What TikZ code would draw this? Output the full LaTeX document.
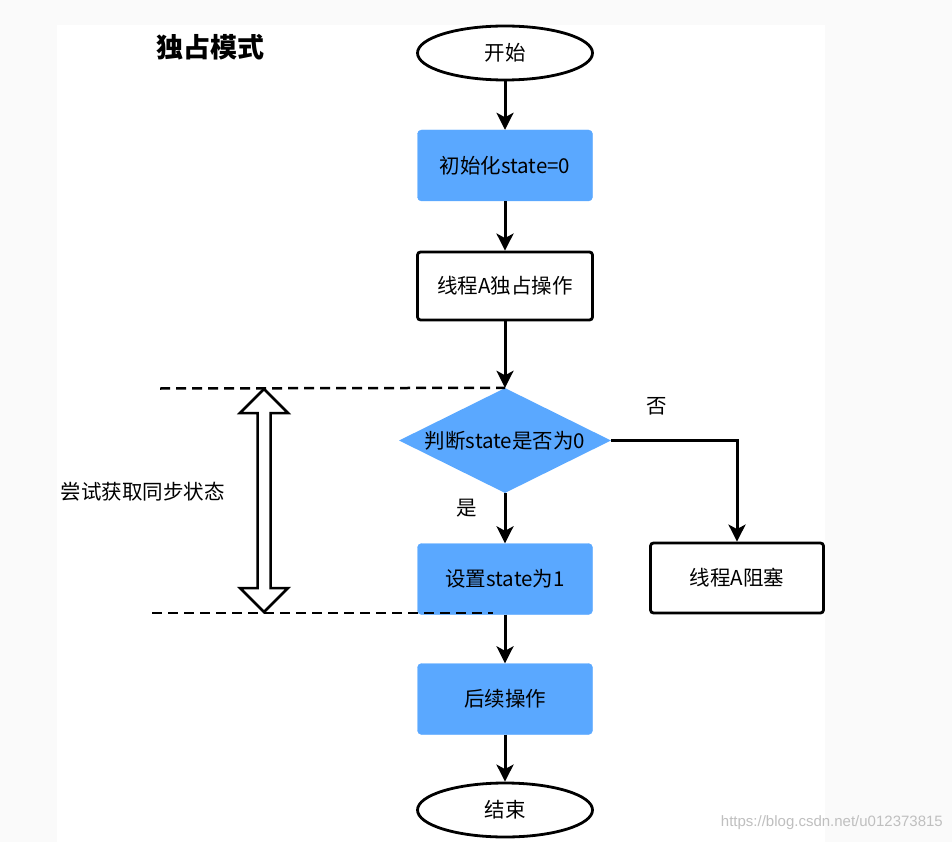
\documentclass[tikz,border=0pt]{standalone}
\usepackage{fontspec}
\setmainfont{Noto Sans CJK SC}
\newfontfamily\wmfont{Liberation Sans}
\usetikzlibrary{shapes.geometric,arrows.meta}
\definecolor{boxblue}{HTML}{5AA8FF}
\tikzset{
  flowbox/.style={rectangle, minimum width=175pt, minimum height=71pt, inner sep=0pt, font=\fontsize{20.5}{24}\selectfont},
  bluebox/.style={flowbox, fill=boxblue, draw=boxblue, rounded corners=4pt},
  whitebox/.style={flowbox, fill=white, draw=black, line width=2.8pt, rounded corners=3pt},
  terminal/.style={ellipse, draw=black, line width=2.8pt, fill=white, minimum width=175pt, minimum height=54pt, inner sep=0pt, font=\fontsize{20.5}{24}\selectfont},
  conn/.style={line width=3pt, -{Stealth[length=17pt, width=17pt, inset=4.5pt]}},
  dashline/.style={line width=2.5pt, dash pattern=on 10pt off 6pt},
  plain/.style={font=\fontsize{20.5}{24}\selectfont, inner sep=0pt}
}
\begin{document}
\begin{tikzpicture}[x=1pt, y=-1pt]
\useasboundingbox (0,0) rectangle (952,842);
\fill[black!2] (0,0) rectangle (952,842);
\fill[white] (57,25) rectangle (825,842);

\node[font=\fontsize{27}{30}\selectfont\bfseries, inner sep=0pt] (title) at (210,47) {独占模式};

\node[terminal] (start) at (505,53) {开始};
\node[bluebox] (init) at (505,165.5) {初始化state=0};
\node[whitebox, minimum height=68pt] (op) at (505,286) {线程A独占操作};
\node[diamond, fill=boxblue, minimum width=212pt, minimum height=105pt, inner sep=0pt] (dec) at (505,440.5) {};
\node[plain] (dectext) at (dec.center) {判断state是否为0};
\node[bluebox] (set) at (505,579) {设置state为1};
\node[bluebox] (next) at (505,699) {后续操作};
\node[terminal] (end) at (505,810) {结束};
\node[whitebox, minimum width=173pt, minimum height=70pt] (block) at (737,578) {线程A阻塞};

\draw[conn] (start) -- (init);
\draw[conn] (init) -- (op);
\draw[conn] (op) -- (dec.north);
\draw[conn] (dec.south) -- (set);
\draw[conn] (set) -- (next);
\draw[conn] (next) -- (end);
\draw[conn] (dec.east) -| (block.north);

\node[plain] (yes) at (467,508) {是};
\node[plain] (no) at (657,406) {否};

\coordinate (dl1) at (160,388.5);
\coordinate (dl2a) at (152,613);
\coordinate (dl2b) at (493,613);
\draw[dashline] (dl1) -- (dec.north);
\draw[dashline] (dl2a) -- (dl2b);

\draw[line width=2.5pt, fill=white, line join=miter]
  (264,389) -- (288,413) -- (270.5,413) -- (270.5,588) -- (288,588) -- (264,612)
  -- (240,588) -- (257.5,588) -- (257.5,413) -- (240,413) -- cycle;

\node[plain, anchor=east] (trylabel) at (225,492) {尝试获取同步状态};

\node[font=\wmfont\fontsize{15}{18}\selectfont, text=black!25, inner sep=0pt, anchor=east] (wm) at (943,823) {https://blog.csdn.net/u012373815};
\end{tikzpicture}
\end{document}
